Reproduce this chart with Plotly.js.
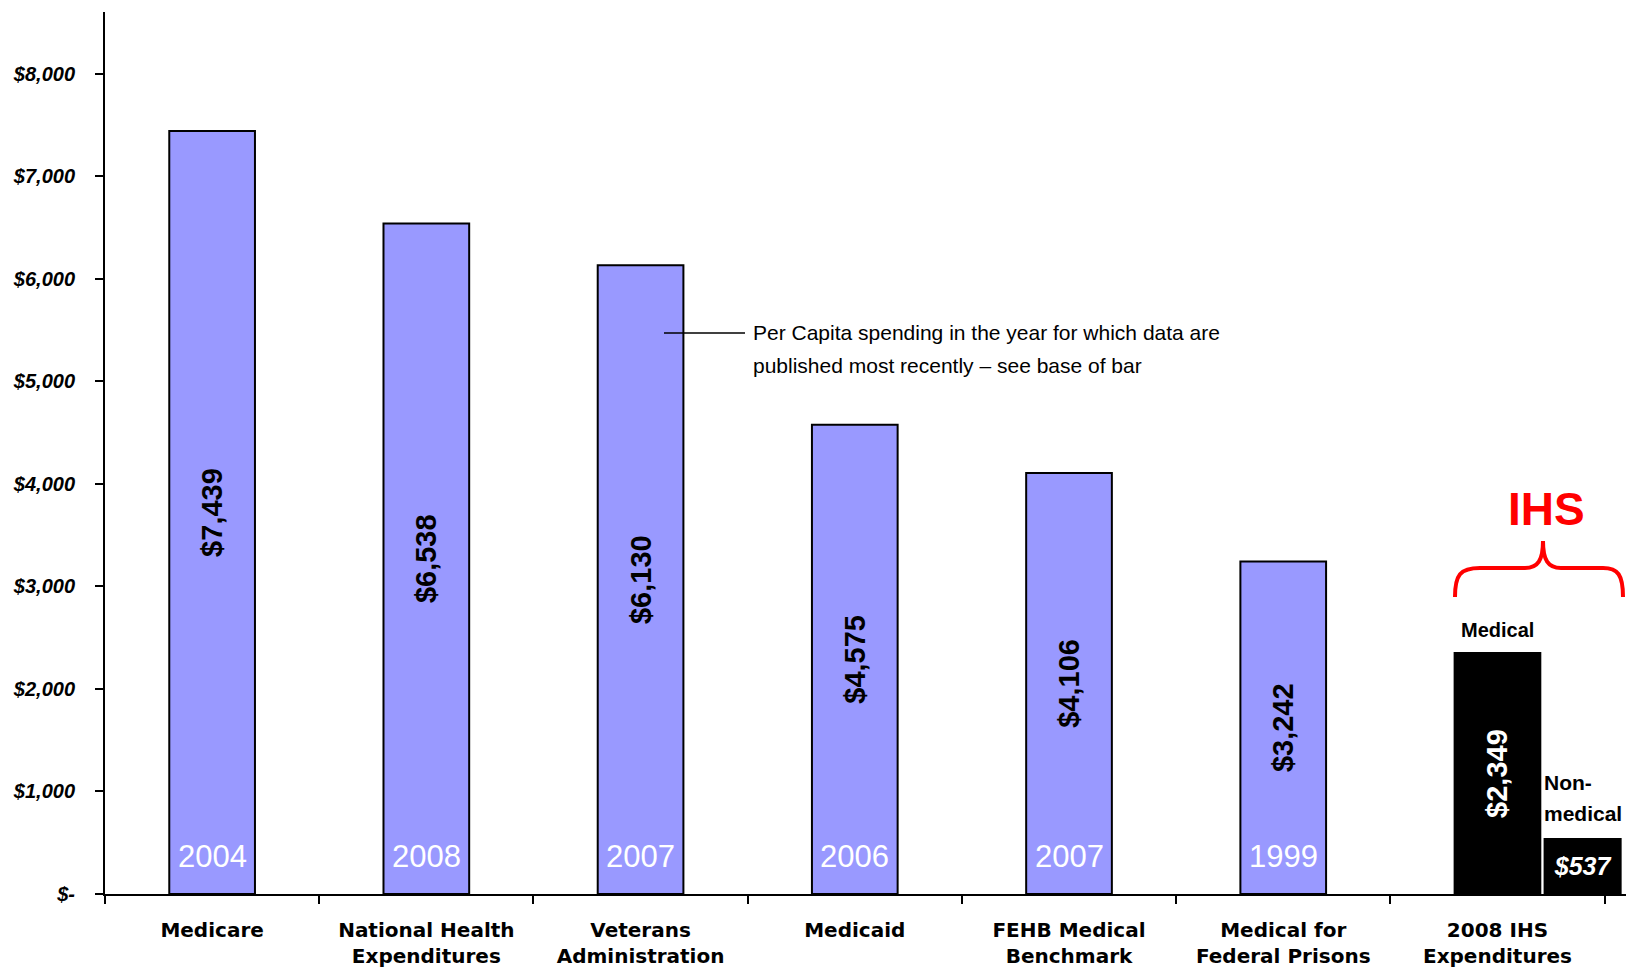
<!DOCTYPE html>
<html>
<head>
<meta charset="utf-8">
<script src="https://cdn.plot.ly/plotly-3.0.1.min.js"></script>
<style>html,body{margin:0;padding:0;background:#fff;}#chart{width:1626px;height:967px;}</style>
</head>
<body>
<div id="chart"></div>
<script>
// ---- data ----
const categories = ["Medicare", "National Health<br>Expenditures", "Veterans<br>Administration", "Medicaid", "FEHB Medical<br>Benchmark", "Medical for<br>Federal Prisons", "2008 IHS<br>Expenditures"];
const programCategories = categories.slice(0, 6);
const perCapitaSpending = [7439, 6538, 6130, 4575, 4106, 3242];
const dataYears = ["2004", "2008", "2007", "2006", "2007", "1999"];
const ihsCategory = [categories[6]];
const ihsMedical = [2349];
const ihsNonMedical = [537];
const yTickValues = [0, 1000, 2000, 3000, 4000, 5000, 6000, 7000, 8000];
const yTickLabels = ["$-", "$1,000", "$2,000", "$3,000", "$4,000", "$5,000", "$6,000", "$7,000", "$8,000"];
const noteLines = ["Per Capita spending in the year for which data are", "published most recently \u2013 see base of bar"];
const nonMedicalLines = ["Non-", "medical"];

// ---- layout helpers (pixel -> paper) ----
const W = 1626, H = 967, ML = 105, MR = 0, MT = 12, MB = 73;
const PW = W - ML - MR, PH = H - MT - MB;
const px = x => (x - ML) / PW;
const py = y => (H - MB - y) / PH;

const sans = "Liberation Sans, Arial, sans-serif";

const traces = [
  {
    type: "bar", x: programCategories, y: perCapitaSpending,
    width: 0.4, offset: -0.2,
    marker: {color: "#9999FF", line: {color: "#000", width: 2}},
    texttemplate: "$%{y:,}", textposition: "inside", insidetextanchor: "middle",
    textangle: -90, constraintext: "none",
    textfont: {family: sans, size: 29, weight: "bold", color: "#000"},
    hoverinfo: "skip", showlegend: false
  },
  {
    type: "bar", x: ihsCategory, y: ihsMedical,
    width: 0.4, offset: -0.2,
    marker: {color: "#000", line: {color: "#000", width: 2}},
    texttemplate: "$%{y:,}", textposition: "inside", insidetextanchor: "middle",
    textangle: -90, constraintext: "none",
    textfont: {family: sans, size: 29, weight: "bold", color: "#fff"},
    hoverinfo: "skip", showlegend: false
  },
  {
    type: "bar", x: ihsCategory, y: ihsNonMedical,
    width: 0.355, offset: 0.22,
    marker: {color: "#000", line: {color: "#000", width: 2}},
    texttemplate: "$%{y:,}", textposition: "inside", insidetextanchor: "middle",
    textangle: 0, constraintext: "none",
    textfont: {family: sans, size: 25, weight: "bold", style: "italic", color: "#fff"},
    hoverinfo: "skip", showlegend: false
  }
];

const annotations = [];
programCategories.forEach((c, i) => {
  annotations.push({
    x: c, y: 0, xref: "x", yref: "y", text: dataYears[i], showarrow: false,
    yanchor: "middle", yshift: 38,
    font: {family: sans, size: 31, color: "#fff"}
  });
});
annotations.push({
  x: ihsCategory[0], y: ihsMedical[0], xref: "x", yref: "y", text: "Medical", showarrow: false,
  yanchor: "bottom", yshift: 10,
  font: {family: sans, size: 20, weight: "bold", color: "#000"}
});
nonMedicalLines.forEach((t, i) => {
  annotations.push({
    x: ihsCategory[0], y: ihsNonMedical[0], xref: "x", yref: "y", text: t, showarrow: false,
    xanchor: "left", yanchor: "middle", xshift: 45, yshift: 56 - i * 31, align: "left",
    font: {family: sans, size: 21, weight: "bold", color: "#000"}
  });
});
annotations.push({
  x: px(1546), y: py(509), xref: "paper", yref: "paper", text: "IHS", showarrow: false,
  xanchor: "center", yanchor: "middle",
  font: {family: sans, size: 46, weight: "bold", color: "#FF0000"}
});
noteLines.forEach((t, i) => {
  annotations.push({
    x: px(751), y: py(333 + i * 32), xref: "paper", yref: "paper", text: t, showarrow: false,
    xanchor: "left", yanchor: "middle",
    font: {family: sans, size: 21, color: "#000"}
  });
});

const brace = `M ${px(1455)} ${py(597)} C ${px(1455)} ${py(575)}, ${px(1460)} ${py(568)}, ${px(1480)} ${py(568)} ` +
  `L ${px(1525)} ${py(568)} C ${px(1538)} ${py(568)}, ${px(1543)} ${py(560)}, ${px(1543)} ${py(541)} ` +
  `C ${px(1543)} ${py(560)}, ${px(1548)} ${py(568)}, ${px(1561)} ${py(568)} ` +
  `L ${px(1603)} ${py(568)} C ${px(1618)} ${py(568)}, ${px(1623)} ${py(575)}, ${px(1623)} ${py(597)}`;

const shapes = [
  {type: "line", xref: "paper", yref: "paper", x0: px(664), x1: px(745), y0: py(333), y1: py(333),
   line: {color: "#000", width: 1.5}},
  {type: "path", xref: "paper", yref: "paper", path: brace, line: {color: "#FF0000", width: 4}}
];

const layout = {
  width: W, height: H,
  margin: {l: ML, r: MR, t: MT, b: MB, pad: 0},
  paper_bgcolor: "#fff", plot_bgcolor: "#fff",
  barmode: "overlay",
  showlegend: false,
  xaxis: {
    type: "category", categoryorder: "array", categoryarray: categories,
    range: [-0.5, 6.6], tickson: "boundaries",
    showline: true, linecolor: "#000", linewidth: 2,
    ticks: "outside", ticklen: 8, tickwidth: 2, tickcolor: "#000",
    showgrid: false, zeroline: false, fixedrange: true,
    ticklabelstandoff: 17,
    tickfont: {family: "DejaVu Sans, Verdana, sans-serif", size: 20, weight: "bold", color: "#000"}
  },
  yaxis: {
    range: [0, 8600],
    tickvals: yTickValues, ticktext: yTickLabels,
    showline: true, linecolor: "#000", linewidth: 2,
    ticks: "outside", ticklen: 8, tickwidth: 2, tickcolor: "#000",
    showgrid: false, zeroline: false, fixedrange: true,
    ticklabelstandoff: 16,
    tickfont: {family: sans, size: 20, weight: "bold", style: "italic", color: "#000"}
  },
  annotations: annotations,
  shapes: shapes
};

Plotly.newPlot("chart", traces, layout, {displayModeBar: false, staticPlot: true});
</script>
</body>
</html>
